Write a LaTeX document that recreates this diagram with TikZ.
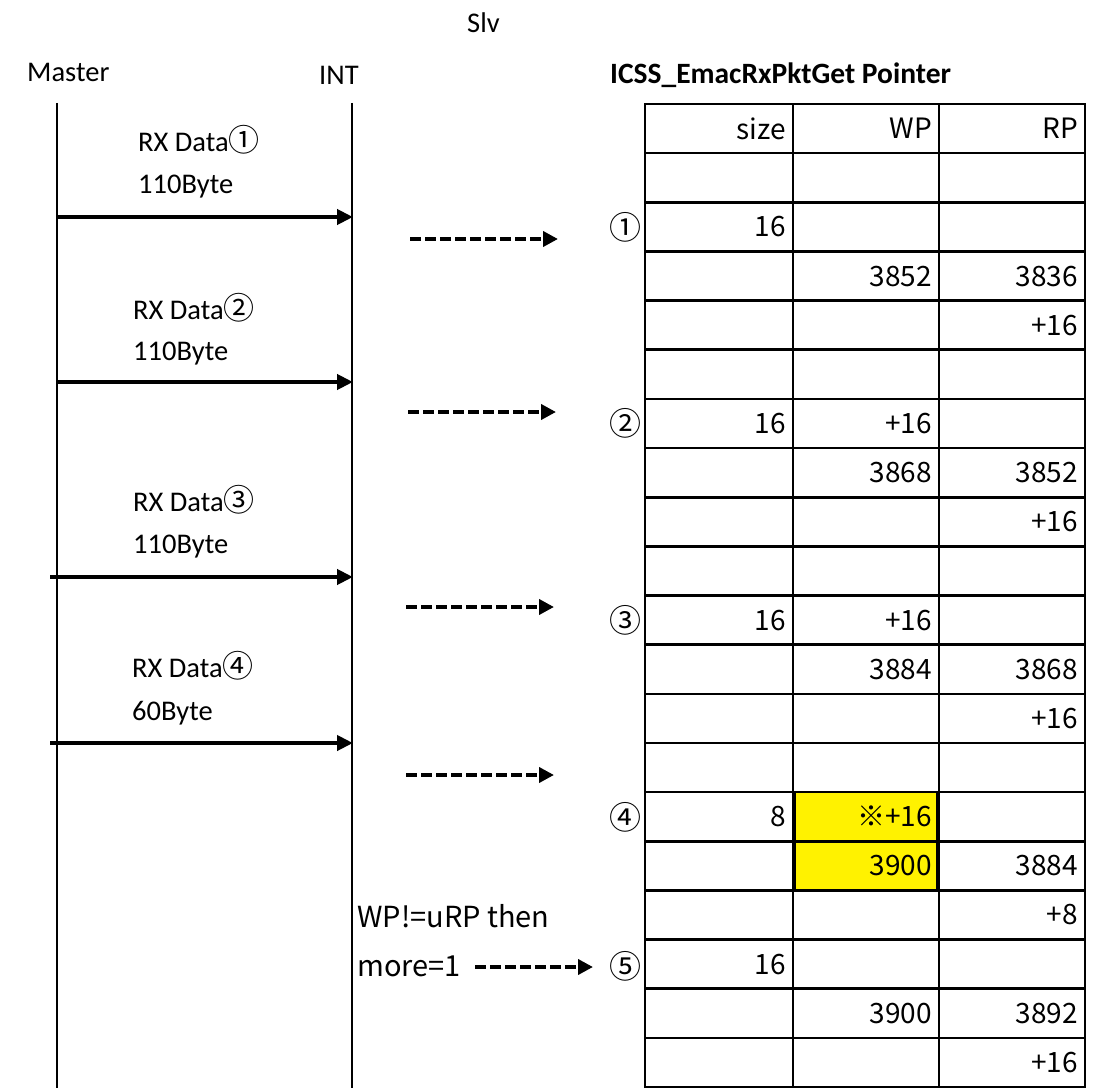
\documentclass[tikz,border=0pt]{standalone}
\usepackage{fontspec}
\setmainfont{Carlito}
\newfontfamily\jp{Noto Sans CJK JP}
\usetikzlibrary{arrows.meta}
\newcommand\rxcirc[1]{{\jp\fontsize{31}{31}\selectfont #1}}
\begin{document}
\begin{tikzpicture}[x=1pt,y=-1pt,
  life/.style={line width=2pt},
  msg/.style={line width=4.2pt,-{Triangle[length=16pt,width=15pt]}},
  dmsg/.style={line width=4pt,dash pattern=on 10.5pt off 4.5pt,-{Triangle[length=15pt,width=15pt]}},
  lbl/.style={anchor=base west,inner sep=0pt,font=\fontsize{28.5}{30}\selectfont},
  ttl/.style={anchor=base west,inner sep=0pt,font=\bfseries\fontsize{29.5}{32}\selectfont},
  jlbl/.style={anchor=base west,inner sep=0pt,font=\jp\fontsize{29}{30}\selectfont},
  circ/.style={inner sep=0pt,font=\jp\fontsize{32}{32}\selectfont},
  cell/.style={draw,line width=2.6pt,minimum height=49.15pt,inner xsep=7pt,inner ysep=0pt,
    align=right,font=\jp\fontsize{28}{30}\selectfont},
  cellA/.style={cell,text width=134pt},
  cellB/.style={cell,text width=132pt},
]
\useasboundingbox (0,0) rectangle (1097,1091);

% headers
\node[lbl] (slv) at (467,33) {Slv};
\node[lbl] (master) at (27,82) {Master};
\node[lbl] (int) at (319,85) {INT};
\node[ttl] (title) at (610,84) {ICSS\_EmacRxPktGet Pointer};

% lifelines
\coordinate (mT) at (57,103);
\coordinate (mB) at (57,1088);
\coordinate (iT) at (352,103);
\coordinate (iB) at (352,1088);
\draw[life] (mT) -- (mB);
\draw[life] (iT) -- (iB);

% message labels
\node[lbl] (rx1) at (138,152) {RX Data\rxcirc{①}};
\node[lbl] (b1) at (138,194) {110Byte};
\node[lbl] (rx2) at (133,319) {RX Data\rxcirc{②}};
\node[lbl] (b2) at (133,360) {110Byte};
\node[lbl] (rx3) at (133,511) {RX Data\rxcirc{③}};
\node[lbl] (b3) at (133,553) {110Byte};
\node[lbl] (rx4) at (132,677) {RX Data\rxcirc{④}};
\node[lbl] (b4) at (132,720) {60Byte};

% solid messages
\coordinate (m1s) at (57,217);  \coordinate (m1e) at (353,217);
\coordinate (m2s) at (57,382);  \coordinate (m2e) at (353,382);
\coordinate (m3s) at (50,577);  \coordinate (m3e) at (353,577);
\coordinate (m4s) at (50,743);  \coordinate (m4e) at (353,743);
\draw[msg] (m1s) -- (m1e);
\draw[msg] (m2s) -- (m2e);
\draw[msg] (m3s) -- (m3e);
\draw[msg] (m4s) -- (m4e);

% dashed arrows
\coordinate (d1s) at (410,239);  \coordinate (d1e) at (558,239);
\coordinate (d2s) at (408,412);  \coordinate (d2e) at (556,412);
\coordinate (d3s) at (406,607);  \coordinate (d3e) at (554,607);
\coordinate (d4s) at (406,775);  \coordinate (d4e) at (554,775);
\draw[dmsg] (d1s) -- (d1e);
\draw[dmsg] (d2s) -- (d2e);
\draw[dmsg] (d3s) -- (d3e);
\draw[dmsg] (d4s) -- (d4e);

% table
\def\rh{49.15}
\foreach \r/\a/\b/\c/\f in {
  1/size/WP/RP/white, 2/{}/{}/{}/white, 3/16/{}/{}/white, 4/{}/3852/3836/white,
  5/{}/{}/+16/white, 6/{}/{}/{}/white, 7/16/+16/{}/white, 8/{}/3868/3852/white,
  9/{}/{}/+16/white, 10/{}/{}/{}/white, 11/16/+16/{}/white, 12/{}/3884/3868/white,
  13/{}/{}/+16/white, 14/{}/{}/{}/white, 15/8/※+16/{}/yellow, 16/{}/3900/3884/yellow,
  17/{}/{}/+8/white, 18/16/{}/{}/white, 19/{}/3900/3892/white, 20/{}/{}/+16/white}{
  \node[cellA] (s\r) at (719,{104+(\r-0.5)*\rh}) {\a};
  \node[cellB,fill=\f] (w\r) at (866,{104+(\r-0.5)*\rh}) {\b};
  \node[cellB] (p\r) at (1012,{104+(\r-0.5)*\rh}) {\c};
}
\draw[line width=2.6pt] (s15.north east) -- (s16.south east);
\draw[line width=2.6pt] (p15.north west) -- (p16.south west);

% circled numbers
\node[circ] (n1) at (625,227) {①};
\node[circ] (n2) at (625,423) {②};
\node[circ] (n3) at (625,620) {③};
\node[circ] (n4) at (625,817) {④};
\node[circ] (n5) at (625,966) {⑤};

% condition text
\node[jlbl] (cond) at (357,927) {WP!=uRP then};
\node[jlbl] (more) at (357,976) {more=1};
\coordinate (d5s) at (475,967);
\coordinate (d5e) at (593,967);
\draw[dmsg] (d5s) -- (d5e);
\end{tikzpicture}
\end{document}
